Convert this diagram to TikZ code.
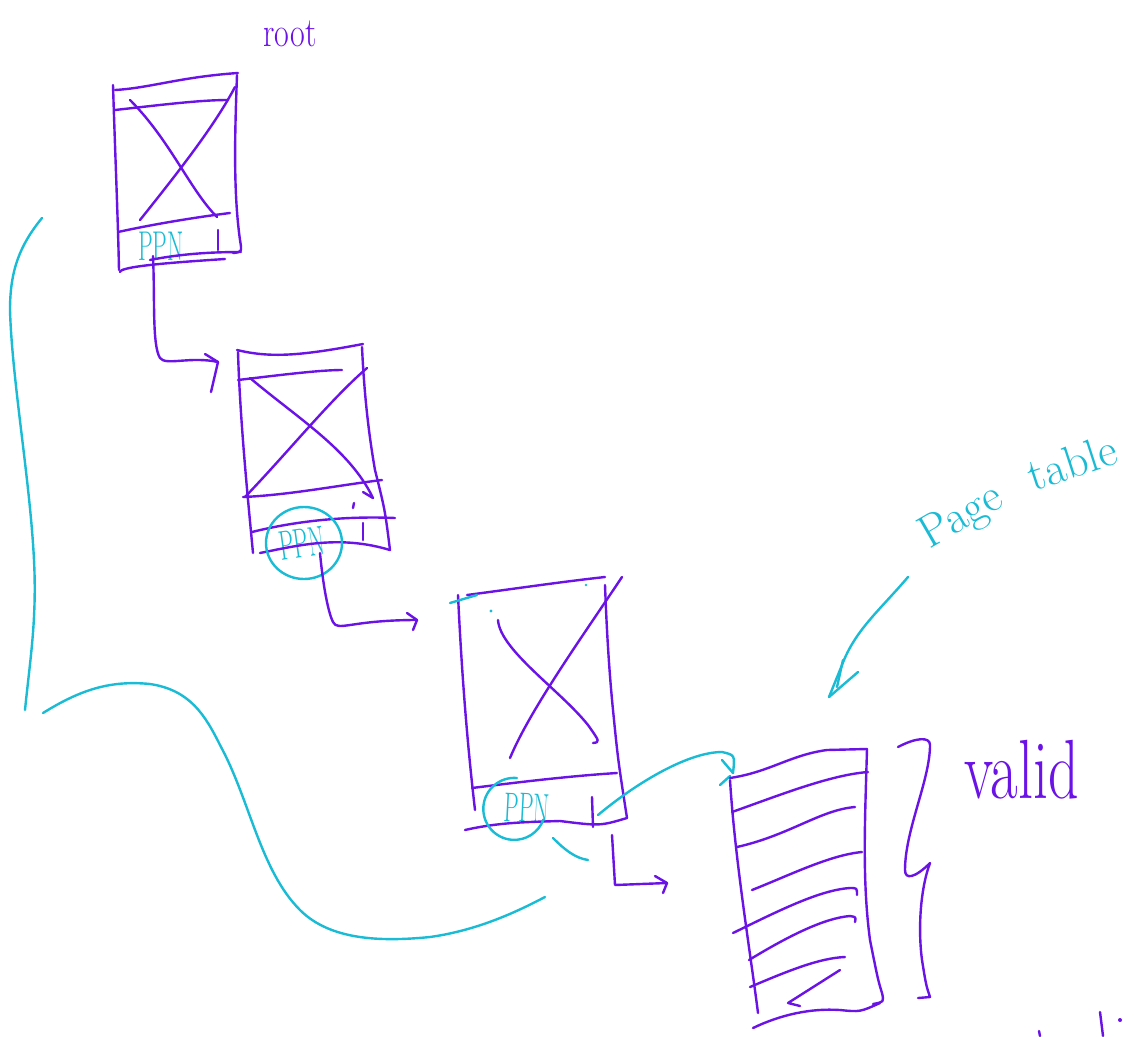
\documentclass[tikz,border=0pt]{standalone}
\usepackage{graphicx}
\definecolor{ink}{HTML}{6B12E6}
\definecolor{aqua}{HTML}{1ABBD4}
\tikzset{
  pen/.style={draw=ink, line width=2.4pt, line cap=round, line join=round},
  cpen/.style={draw=aqua, line width=2.4pt, line cap=round, line join=round},
  ptxt/.style={text=ink, inner sep=0pt},
  ctxt/.style={text=aqua, inner sep=0pt},
}
\begin{document}
\begin{tikzpicture}[x=1pt,y=-1pt]
\fill[white] (0,0) rectangle (1134,1036);
\useasboundingbox (0,0) rectangle (1134,1036);

% ---------- labels ----------
\node[ptxt] (root) at (290,34) {\scalebox{1}[1.3]{\fontsize{32}{32}\selectfont root}};
\node[ctxt] (ppn1) at (161,246) {\scalebox{0.9}[1.6]{\fontsize{26}{26}\selectfont PPN}};
\node[ctxt, rotate=8] (ppn2) at (302,543) {\scalebox{0.9}[1.6]{\fontsize{26}{26}\selectfont PPN}};
\node[ctxt, rotate=-3] (ppn3) at (527,808) {\scalebox{0.9}[1.6]{\fontsize{26}{26}\selectfont PPN}};
\node[ctxt, rotate=30] (ptlabel1) at (962,518) {\fontsize{46}{46}\selectfont Page};
\node[ctxt, rotate=18] (ptlabel2) at (1072,462) {\fontsize{46}{46}\selectfont table};
\node[ptxt] (valid) at (1022,770) {\scalebox{1}[1.4]{\fontsize{60}{60}\selectfont valid}};

% ---------- box 1 (root) ----------
\draw[pen] (113,85) .. controls (115,150) and (118,220) .. (119,270);
\draw[pen] (115,90) .. controls (150,88) and (180,77) .. (238,73);
\draw[pen] (237,75) .. controls (235,130) and (233,190) .. (240,240) .. controls (242,252) .. (233,253);
\draw[pen] (115,110) .. controls (160,105) and (200,100) .. (228,100);
\draw[pen] (130,100) .. controls (170,140) and (190,190) .. (217,217);
\draw[pen] (140,220) .. controls (180,170) and (215,125) .. (235,87);
\draw[pen] (118,232) .. controls (150,225) and (190,218) .. (230,213);
\draw[pen] (150,260) .. controls (180,254) and (210,252) .. (241,252);
\draw[pen] (120,272) .. controls (120,266) and (180,262) .. (225,259);
\draw[pen] (218,230) -- (218,250);
\coordinate (b1out) at (153,256);
\coordinate (b2in) at (218,362);
\draw[pen] (b1out) .. controls (155,300) and (152,345) .. (160,358) .. controls (166,366) and (190,356) .. (b2in);
\draw[pen] (205,354) -- (b2in) -- (211,392);

% ---------- box 2 ----------
\draw[pen] (237,350) .. controls (270,358) and (300,356) .. (363,344);
\draw[pen] (238,352) .. controls (240,420) and (248,500) .. (253,553);
\draw[pen] (362,347) .. controls (364,390) and (368,430) .. (375,470) .. controls (385,510) .. (390,550);
\draw[pen] (238,380) .. controls (280,375) and (320,370) .. (342,370);
\draw[pen] (250,378) .. controls (300,420) and (350,450) .. (373,498) -- (363,492);
\draw[pen] (245,497) .. controls (290,450) and (330,400) .. (367,368);
\draw[pen] (243,497) .. controls (290,495) and (340,485) .. (382,480);
\draw[pen] (252,532) .. controls (300,520) and (350,516) .. (395,518);
\draw[pen] (260,553) .. controls (300,545) and (340,535) .. (390,550);
\draw[pen] (363,523) -- (363,540);
\draw[pen] (354,503) -- (353,508);
\draw[cpen] (304,543) ellipse [x radius=38, y radius=36];
\coordinate (b2out) at (320,553);
\coordinate (b3in) at (417,620);
\draw[pen] (b2out) .. controls (323,585) and (328,612) .. (333,622) .. controls (338,632) and (350,620) .. (b3in);
\draw[pen] (407,613) -- (b3in) -- (413,630);

% ---------- box 3 ----------
\draw[pen] (467,595) .. controls (520,588) and (560,582) .. (605,577);
\draw[pen] (458,595) .. controls (462,680) and (468,750) .. (475,810);
\draw[pen] (605,585) .. controls (607,640) and (610,680) .. (613,710) .. controls (618,760) .. (627,818);
\draw[pen] (465,830) .. controls (500,822) and (530,822) .. (560,821) .. controls (600,826) .. (627,818);
\draw[pen] (498,620) .. controls (500,650) and (560,690) .. (588,725) .. controls (600,742) .. (593,743);
\draw[pen] (510,758) .. controls (530,710) and (580,640) .. (622,577);
\draw[pen] (472,788) .. controls (520,782) and (570,776) .. (617,773);
\draw[pen] (592,797) -- (593,827);
\draw[cpen] (517,778) arc[start angle=-85, end angle=-340, x radius=31, y radius=31];
\draw[cpen] (553,838) .. controls (565,850) and (575,858) .. (588,860);
\draw[cpen] (450,603) -- (477,595);
\fill[aqua] (491,611) circle (1.6);
\fill[aqua] (586,585) circle (1.4);
\coordinate (b3cy) at (598,815);
\coordinate (ptin) at (733,773);
\draw[cpen] (b3cy) .. controls (640,780) and (690,752) .. (722,752) .. controls (735,755) .. (ptin);
\draw[cpen] (722,760) -- (ptin);
\draw[cpen] (720,785) -- (730,776);
\coordinate (b3out) at (612,835);
\coordinate (b3end) at (667,883);
\draw[pen] (b3out) -- (615,885) -- (b3end);
\draw[pen] (655,876) -- (b3end) -- (663,893);

% ---------- page table ----------
\draw[pen] (730,778) .. controls (770,772) and (790,755) .. (827,750) -- (867,749);
\draw[pen] (867,749) .. controls (865,820) and (862,880) .. (870,940) .. controls (878,980) .. (882,993) .. controls (884,1002) .. (873,1004);
\draw[pen] (730,780) .. controls (735,860) and (750,950) .. (758,1013);
\draw[pen] (753,1028) .. controls (780,1015) and (810,1008) .. (840,1010) .. controls (860,1012) .. (880,1003);
\draw[pen] (732,812) .. controls (780,795) and (830,775) .. (868,772);
\draw[pen] (737,847) .. controls (790,835) and (820,810) .. (855,807);
\draw[pen] (752,890) .. controls (790,875) and (830,855) .. (862,852);
\draw[pen] (733,933) .. controls (780,910) and (820,890) .. (850,888) .. controls (857,888) .. (857,895);
\draw[pen] (749,960) .. controls (790,935) and (825,918) .. (850,916) .. controls (856,917) .. (855,922);
\draw[pen] (750,987) .. controls (790,970) and (820,958) .. (845,957);
\draw[pen] (840,970) -- (788,1003) -- (800,1006);
\draw[pen] (898,747) .. controls (915,738) and (930,736) .. (930,745) .. controls (930,780) and (905,830) .. (905,870) .. controls (905,880) and (915,878) .. (930,863) .. controls (920,890) and (918,930) .. (922,960) .. controls (926,985) .. (930,997) -- (918,998);

% ---------- page table pointer ----------
\coordinate (ptlfrom) at (908,577);
\coordinate (ptlto) at (829,697);
\draw[cpen] (ptlfrom) .. controls (880,610) and (855,630) .. (842,665) -- (ptlto);
\draw[cpen] (843,660) -- (837,687);
\draw[cpen] (ptlto) -- (858,672);

% ---------- cyan free curves ----------
\draw[cpen] (42,218) .. controls (20,245) and (10,270) .. (10,310) .. controls (12,380) and (30,480) .. (34,560) .. controls (37,620) and (30,660) .. (25,710);
\draw[cpen] (43,713) .. controls (80,690) and (110,680) .. (150,684) .. controls (190,690) and (205,715) .. (220,745) .. controls (250,800) and (260,870) .. (300,910) .. controls (330,940) and (380,942) .. (430,937) .. controls (480,930) and (520,910) .. (545,897);

% ---------- cut-off marks bottom right ----------
\draw[pen] (1100,1012) -- (1103,1036);
\fill[ink] (1120,1020) circle (2);
\draw[pen] (1039,1031) -- (1040,1036);
\end{tikzpicture}
\end{document}
